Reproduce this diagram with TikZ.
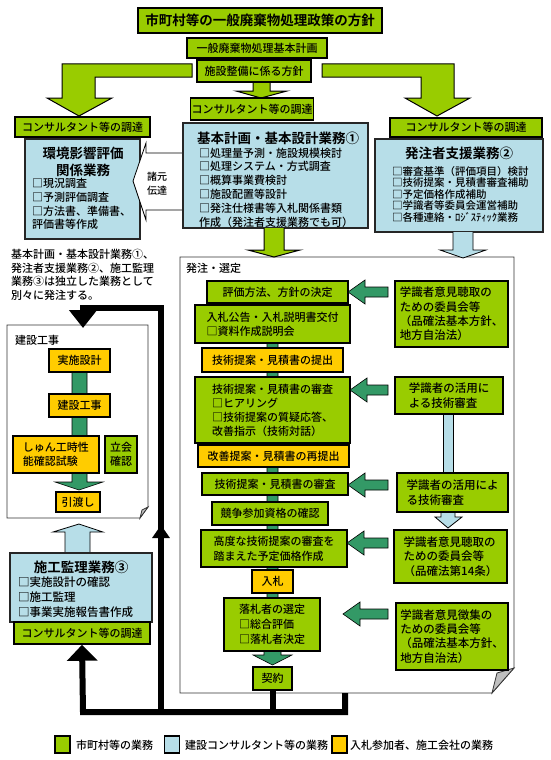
\documentclass[tikz,border=0pt]{standalone}
\usepackage{fontspec}
\IfFontExistsTF{Noto Sans CJK JP Medium}
  {\setmainfont{Noto Sans CJK JP}[UprightFont={* Medium},BoldFont={* Bold}]}
  {\setmainfont{Noto Sans CJK JP}}
\usetikzlibrary{arrows.meta}
\definecolor{cgreen}{RGB}{153,204,0}
\definecolor{cblue}{RGB}{183,222,232}
\definecolor{corange}{RGB}{255,204,0}
\definecolor{cteal}{RGB}{51,153,102}
\newcommand\sqb{{\bfseries □}}
\newcommand\tealarrow[2]{\draw[tarrow] (#1,#2) -- (#1+17,#2-12) -- (#1+17,#2-5) -- (388,#2-5) -- (388,#2+5) -- (#1+17,#2+5) -- (#1+17,#2+12) -- cycle;}
\begin{document}
\begin{tikzpicture}[x=1pt,y=-1pt,
  f11/.style={font=\fontsize{11}{13.5}\selectfont},
  gbox/.style={draw=black,line width=1.5pt,fill=cgreen,inner sep=1pt,align=center,font=\fontsize{11}{14}\selectfont},
  obox/.style={gbox,fill=corange},
  rbox/.style={gbox,align=left,font=\fontsize{11.5}{14.3}\selectfont},
  bbox/.style={draw=black!85,line width=1.3pt,fill=cblue,inner sep=0pt},
  ttl/.style={inner sep=0pt,align=center,font=\bfseries\fontsize{13.5}{17}\selectfont},
  itm/.style={inner sep=0pt,align=left,anchor=west,font=\fontsize{11}{13.8}\selectfont},
  bigarrow/.style={draw=black,line width=1pt,fill=cgreen},
  tarrow/.style={draw=black,line width=0.6pt,fill=cteal},
  larrow/.style={draw=black,line width=0.8pt,fill=cblue},
  blk/.style={line width=6pt,black,line join=miter},
  frame/.style={draw=black!80,line width=0.8pt,fill=white},
  lgd/.style={draw=black,line width=1.2pt,minimum width=15pt,minimum height=17pt,inner sep=0pt},
]
\useasboundingbox (0,0) rectangle (550,760);
\fill[white] (0,0) rectangle (550,760);

% ---- top big arrows
\draw[bigarrow] (192,64) -- (62,64) -- (62,98) -- (47,98) -- (79,116) -- (112,98) -- (95,98) -- (95,77) -- (192,77) -- cycle;
\draw[bigarrow] (322,64) -- (454,64) -- (454,98) -- (470,98) -- (437,116) -- (405,98) -- (421,98) -- (421,77) -- (322,77) -- cycle;
\draw[bigarrow] (253,80) -- (253,91) -- (236,91) -- (261,98) -- (287,91) -- (270,91) -- (270,80) -- cycle;

\node[gbox,font=\bfseries\fontsize{13.5}{16}\selectfont,minimum width=244pt,minimum height=25pt] (title) at (260,20.5) {市町村等の一般廃棄物処理政策の方針};
\node[gbox,minimum width=140pt,minimum height=20pt] (plan) at (257,48) {一般廃棄物処理基本計画};
\node[gbox,minimum width=114pt,minimum height=22pt] (policy) at (254,71) {施設整備に係る方針};

% ---- consultant boxes
\node[gbox,minimum width=135pt,minimum height=20pt] (cL) at (82.5,127) {コンサルタント等の調達};
\node[gbox,minimum width=120pt,minimum height=22pt] (cC) at (252,109) {コンサルタント等の調達};
\node[gbox,minimum width=152pt,minimum height=19pt] (cR) at (466,127.5) {コンサルタント等の調達};

% ---- blue boxes
\node[bbox,minimum width=115pt,minimum height=100pt] (envbox) at (82.5,189) {};
\node[ttl] (envttl) at (83,161.5) {環境影響評価\\関係業務};
\node[itm] (envitm) at (32,204) {\sqb 現況調査\\\sqb 予測評価調査\\\sqb 方法書、準備書、\\評価書等作成};

\draw[draw=black,line width=0.8pt,fill=white] (133,181) -- (146,143) -- (146,153) -- (190,153) -- (190,210) -- (146,210) -- (146,220) -- cycle;
\node[inner sep=0pt,align=center,font=\fontsize{10}{14}\selectfont] (shogen) at (157,184) {諸元\\伝達};

\node[bbox,minimum width=185pt,minimum height=105pt] (basbox) at (275.5,175.5) {};
\node[ttl] (basttl) at (278,138) {基本計画・基本設計業務①};
\node[itm] (basitm) at (199,187.5) {\sqb 処理量予測・施設規模検討\\\sqb 処理システム・方式調査\\\sqb 概算事業費検討\\\sqb 施設配置等設計\\\sqb 発注仕様書等入札関係書類\\作成（発注者支援業務でも可）};

\node[bbox,minimum width=168pt,minimum height=93pt] (supbox) at (459,185.5) {};
\node[ttl] (supttl) at (459,153) {発注者支援業務②};
\node[itm,font=\fontsize{10.5}{11.5}\selectfont] (supitm) at (392,194) {\sqb 審査基準（評価項目）検討\\\sqb 技術提案・見積書審査補助\\\sqb 予定価格作成補助\\\sqb 学識者等委員会運営補助\\\sqb 各種連絡・ﾛｼﾞｽﾃｨｯｸ業務};

% ---- left note
\node[anchor=west,align=left,inner sep=0pt,font=\fontsize{11}{13.5}\selectfont] (note) at (11,275) {基本計画・基本設計業務①、\\発注者支援業務②、施工監理\\業務③は独立した業務として\\別々に発注する。};

% ---- 建設工事 frame
\draw[frame] (7,325) -- (148,325) -- (148,507) -- (140,518) -- (7,518) -- cycle;
\draw[frame,fill=black!25] (142,510) -- (148,507) -- (140,518) -- cycle;
\node[f11,anchor=west,inner sep=0pt] (kklabel) at (15,340) {建設工事};
\draw[tarrow] (72,372) -- (87,372) -- (87,482) -- (103,482) -- (79,490) -- (55,482) -- (72,482) -- cycle;
\node[obox,minimum width=61pt,minimum height=23pt] (jissi) at (79.5,360.5) {実施設計};
\node[obox,minimum width=61pt,minimum height=23pt] (kensetsu) at (79.5,405.5) {建設工事};
\node[obox,align=left,minimum width=86pt,minimum height=37pt] (shunko) at (56,454.5) {しゅん工時性\\能確認試験};
\node[gbox,minimum width=32pt,minimum height=37pt] (tachiai) at (121,454.5) {立会\\確認};
\node[obox,minimum width=44pt,minimum height=20pt] (hikiwatashi) at (78,502) {引渡し};

% ---- 施工監理
\draw[larrow] (65,553) -- (65,532) -- (53,532) -- (79,524) -- (103,532) -- (90,532) -- (90,553) -- cycle;
\node[bbox,minimum width=142pt,minimum height=69pt] (supvbox) at (81,587.5) {};
\node[ttl] (supvttl) at (81,567) {施工監理業務③};
\node[itm,font=\fontsize{11.5}{15}\selectfont] (supvitm) at (18,597) {\sqb 実施設計の確認\\\sqb 施工監理\\\sqb 事業実施報告書作成};
\node[gbox,minimum width=136pt,minimum height=22pt] (cS) at (82,633) {コンサルタント等の調達};

% ---- 発注・選定 frame
\draw[frame] (180,257) -- (514,257) -- (514,668) -- (492,693) -- (180,693) -- cycle;
\draw[frame,fill=black!25] (497,673) -- (514,668) -- (492,693) -- cycle;
\node[f11,anchor=west,inner sep=0pt] (hclabel) at (186,268) {発注・選定};
\draw[bigarrow] (264,228) -- (264,250) -- (248,250) -- (274,257) -- (300,250) -- (284,250) -- (284,228);
\draw[larrow] (453,232) -- (453,250) -- (440,250) -- (463,258) -- (486,250) -- (473,250) -- (473,232);

% spine
\draw[tarrow] (267,303) -- (278,303) -- (278,648) -- (281,648) -- (281,655) -- (292,655) -- (272.5,665) -- (253,655) -- (264,655) -- (264,648) -- (267,648) -- cycle;

\node[gbox,minimum width=141pt,minimum height=22pt] (b1) at (277.5,292) {評価方法、方針の決定};
\node[gbox,align=left,minimum width=155pt,minimum height=38pt] (b2) at (272.5,324) {入札公告・入札説明書交付\\\sqb 資料作成説明会};
\node[obox,minimum width=141pt,minimum height=24pt] (b3) at (272.5,360) {技術提案・見積書の提出};
\node[gbox,align=left,minimum width=155pt,minimum height=66pt] (b4) at (272.5,410) {技術提案・見積書の審査\\\sqb ヒアリング\\\sqb 技術提案の質疑応答、\\改善指示（技術対話）};
\node[obox,minimum width=151pt,minimum height=22pt] (b5) at (273.5,456) {改善提案・見積書の再提出};
\node[gbox,minimum width=146pt,minimum height=22pt] (b6) at (275,484) {技術提案・見積書の審査};
\node[gbox,minimum width=116pt,minimum height=23pt] (b7) at (270,513.5) {競争参加資格の確認};
\node[gbox,align=left,minimum width=146pt,minimum height=37pt,font=\fontsize{11}{15}\selectfont] (b8) at (274,548.5) {高度な技術提案の審査を\\踏まえた予定価格作成};
\node[obox,minimum width=41pt,minimum height=23pt] (b9) at (272.5,581.5) {入札};
\node[gbox,align=left,minimum width=96pt,minimum height=53pt,font=\fontsize{11}{15}\selectfont] (b10) at (272,624.5) {落札者の選定\\\sqb 総合評価\\\sqb 落札者決定};
\node[gbox,minimum width=39pt,minimum height=23pt] (keiyaku) at (272.5,678.5) {契約};

% right column
\draw[draw=black,line width=0.6pt,fill=cblue] (443,414) rectangle (453,473);
\draw[larrow] (441,512) -- (441,517) -- (435,517) -- (448,528) -- (462,517) -- (455,517) -- (455,512);
\node[rbox,minimum width=113pt,minimum height=66pt] (r1) at (451.5,314) {学識者意見聴取の\\ための委員会等\\（品確法基本方針、\\地方自治法）};
\node[rbox,minimum width=108pt,minimum height=37pt] (r2) at (449,395.5) {学識者の活用に\\よる技術審査};
\node[rbox,minimum width=111pt,minimum height=39pt] (r3) at (452.5,492.5) {学識者の活用によ\\る技術審査};
\node[rbox,minimum width=113pt,minimum height=53pt] (r4) at (450.5,556.5) {学識者意見聴取の\\ための委員会等\\（品確法第14条）};
\node[rbox,minimum width=112pt,minimum height=67pt] (r5) at (452,636.5) {学識者意見徴集の\\ための委員会等\\（品確法基本方針、\\地方自治法）};

\tealarrow{348}{292}
\tealarrow{350}{390}
\tealarrow{348}{485}
\tealarrow{347}{543}
\tealarrow{343}{614}

% ---- black connectors
\coordinate (jL) at (83,712);
\coordinate (jR) at (345,712);
\coordinate (jK) at (272.5,712);
\coordinate (vB) at (161,712);
\coordinate (vU) at (161,525);
\coordinate (vS) at (161,538);
\coordinate (vT) at (161,308);
\coordinate (hT) at (83,308);
\coordinate (kkTop) at (83,328);
\coordinate (stub) at (345,693);
\draw[blk] (keiyaku.south) -- (jK);
\draw[blk,-{Triangle[length=16pt,width=30pt]}] (stub) -- (jR) -- (jL) -- (cS.south);
\draw[blk,-{Triangle[length=13pt,width=17pt]}] (vB) -- (vU);
\draw[blk,-{Triangle[length=18pt,width=27pt]}] (vS) -- (vT) -- (hT) -- (kkTop);

% ---- legend
\node[lgd,fill=cgreen] (lg1) at (62.5,744.5) {};
\node[f11,anchor=west,inner sep=0pt] (lt1) at (76,745) {市町村等の業務};
\node[lgd,fill=cblue] (lg2) at (172,744.5) {};
\node[f11,anchor=west,inner sep=0pt] (lt2) at (185,745) {建設コンサルタント等の業務};
\node[lgd,fill=corange] (lg3) at (339.5,744.5) {};
\node[f11,anchor=west,inner sep=0pt] (lt3) at (350,745) {入札参加者、施工会社の業務};
\end{tikzpicture}
\end{document}
